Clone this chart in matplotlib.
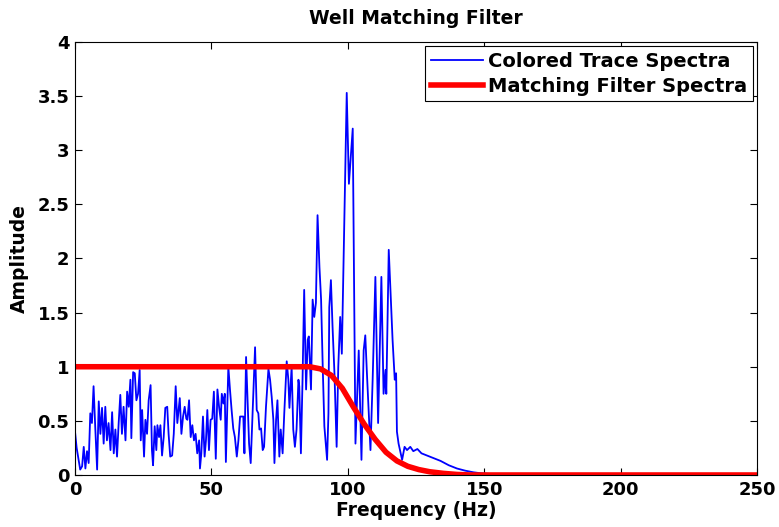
import matplotlib
matplotlib.use("Agg")
import matplotlib.pyplot as plt

plt.rcParams['font.family'] = ['DejaVu Sans']
plt.rcParams['font.weight'] = 'bold'

# Colored trace spectra (blue)
blue_f = [0.0, 0.6, 1.3, 1.9, 2.6, 3.2, 3.8, 4.4, 5.0, 5.6, 6.2, 6.8, 7.4, 8.1, 8.7, 9.3,
          9.9, 10.5, 11.1, 11.7, 12.3, 13.0, 13.6, 14.2, 14.8, 15.4, 16.0, 16.6, 17.2,
          17.8, 18.5, 19.1, 19.7, 20.3,
          20.65, 21.3, 21.9, 22.5, 23.1, 23.7, 24.1, 24.6, 25.3, 25.8, 26.4, 27.0, 27.7,
          28.2, 28.6, 29.2, 29.8, 30.2, 30.8, 31.3, 31.9, 32.5, 33.1, 33.8, 34.3, 34.9,
          35.6, 36.2, 36.9, 37.5, 38.4, 39.0, 39.6, 40.2, 40.8,
          41.2, 41.8, 42.4, 43.0, 43.6, 44.2, 44.8, 45.5, 45.8, 46.3, 46.9, 47.5, 48.0,
          48.5, 49.1, 49.7, 50.3, 50.9, 51.6, 52.2, 52.8, 53.4, 53.8, 54.4, 54.9, 55.3,
          56.2, 56.8, 57.4, 58.0, 58.6, 59.3, 59.9, 60.5, 61.3,
          61.7, 62.1, 62.7, 63.2, 63.8, 64.4, 65.1, 66.0, 66.6, 67.2, 67.6, 68.2, 68.8,
          69.3, 70.0, 70.9, 71.5, 72.1, 72.7, 73.1, 73.7, 74.2, 74.9, 75.4, 76.1, 76.7,
          77.6, 78.2, 78.6, 79.4, 80.0, 80.6, 81.2, 81.9,
          82.2, 82.8, 83.4, 84.0, 84.7, 85.3, 85.7, 86.5, 87.1, 87.7, 88.3, 88.9, 89.6,
          90.2, 90.8, 91.4, 92.0, 92.4, 92.9, 93.2, 93.8, 94.4, 95.1, 95.9, 96.5, 97.2,
          97.8, 98.4, 99.6, 100.4, 101.8,
          102.8, 104.0, 105.0, 105.8, 106.4, 107.0, 108.3, 109.1, 110.1, 111.1, 112.3,
          113.1, 113.8, 114.1, 115.0, 116.4, 117.2, 117.7, 118.0, 118.6, 119.9, 120.8,
          121.7, 122.9, 124.0, 125.5, 127.0, 129.0, 131.0, 134.0, 137.0, 140.0, 143.0,
          146.0, 149.0, 152.0, 160.0, 180.0, 250.0]
blue_a = [0.40, 0.25, 0.14, 0.05, 0.08, 0.26, 0.06, 0.22, 0.11, 0.57, 0.48, 0.82, 0.45, 0.05,
          0.68, 0.38, 0.62, 0.29, 0.63, 0.32, 0.48, 0.23, 0.58, 0.20, 0.42, 0.17, 0.48, 0.74,
          0.38, 0.63, 0.32, 0.77, 0.63, 0.88,
          0.34, 0.95, 0.94, 0.69, 0.75, 0.97, 0.32, 0.60, 0.17, 0.51, 0.38, 0.69, 0.83,
          0.23, 0.09, 0.45, 0.23, 0.46, 0.35, 0.46, 0.18, 0.35, 0.62, 0.63, 0.38, 0.17,
          0.18, 0.38, 0.82, 0.48, 0.71, 0.38, 0.54, 0.63, 0.52,
          0.51, 0.69, 0.35, 0.46, 0.32, 0.38, 0.20, 0.32, 0.06, 0.20, 0.54, 0.17, 0.32,
          0.60, 0.23, 0.51, 0.52, 0.77, 0.15, 0.79, 0.63, 0.51, 0.75, 0.66, 0.75, 0.12,
          1.00, 0.79, 0.60, 0.43, 0.35, 0.17, 0.32, 0.54, 0.54,
          0.54, 0.20, 1.09, 0.72, 0.29, 0.11, 0.57, 1.18, 0.60, 0.57, 0.42, 0.43, 0.23,
          0.26, 0.63, 0.98, 0.88, 0.72, 0.51, 0.11, 0.51, 0.69, 0.17, 0.42, 0.20, 0.57,
          1.05, 0.88, 0.62, 1.00, 0.42, 0.26, 0.42, 0.88,
          0.82, 0.20, 0.88, 1.71, 0.79, 1.25, 1.28, 0.79, 1.62, 1.46, 1.59, 2.40, 1.92,
          1.62, 1.00, 0.45, 0.26, 0.14, 0.57, 1.55, 1.80, 1.37, 0.94, 0.26, 1.00, 1.46,
          1.12, 1.92, 3.53, 2.69, 3.20,
          0.29, 1.15, 0.14, 1.15, 1.29, 0.94, 0.23, 0.88, 1.83, 0.48, 1.83,
          0.75, 0.97, 0.75, 2.08, 1.25, 0.88, 0.94, 0.40, 0.29, 0.14, 0.26,
          0.23, 0.26, 0.22, 0.24, 0.20, 0.18, 0.16, 0.13, 0.09, 0.06, 0.04,
          0.025, 0.015, 0.01, 0.005, 0.003, 0.002]

# Matching filter spectra (red)
red_f = [0, 86, 90, 94, 98, 102, 106, 110, 114, 118, 122, 126, 130, 135, 140, 145, 250]
red_a = [1.0, 1.0, 0.98, 0.92, 0.80, 0.63, 0.47, 0.33, 0.21, 0.13, 0.08, 0.05, 0.03,
         0.015, 0.005, 0.0, 0.0]

fig = plt.figure(figsize=(7.79, 5.27), dpi=100)
ax = fig.add_axes([0.0963, 0.0987, 0.8755, 0.8216])

ax.plot(blue_f, blue_a, color='blue', linewidth=1.3, label='Colored Trace Spectra')
ax.plot(red_f, red_a, color='red', linewidth=4, label='Matching Filter Spectra')

ax.set_xlim(0, 250)
ax.set_ylim(0, 4)
ax.set_xticks([0, 50, 100, 150, 200, 250])
ax.set_yticks([0, 0.5, 1, 1.5, 2, 2.5, 3, 3.5, 4])
ax.set_yticklabels(['0', '0.5', '1', '1.5', '2', '2.5', '3', '3.5', '4'])
ax.tick_params(direction='in', top=True, right=True, labelsize=13, length=5, pad=4)
for lab in ax.get_xticklabels() + ax.get_yticklabels():
    lab.set_fontweight('bold')

ax.set_title('Well Matching Filter', fontsize=13.5, fontweight='bold', pad=13)
ax.set_xlabel('Frequency (Hz)', fontsize=13.5, fontweight='bold', labelpad=2)
ax.set_ylabel('Amplitude', fontsize=13.5, fontweight='bold', labelpad=6)

leg = ax.legend(loc='upper right', fontsize=14, fancybox=False, framealpha=1,
                edgecolor='black', handlelength=2.7, handletextpad=0.25,
                borderaxespad=0.2, borderpad=0.3, labelspacing=0.3)
leg.get_frame().set_linewidth(0.8)
for t in leg.get_texts():
    t.set_fontweight('bold')

fig.savefig('out.png', dpi=100)
